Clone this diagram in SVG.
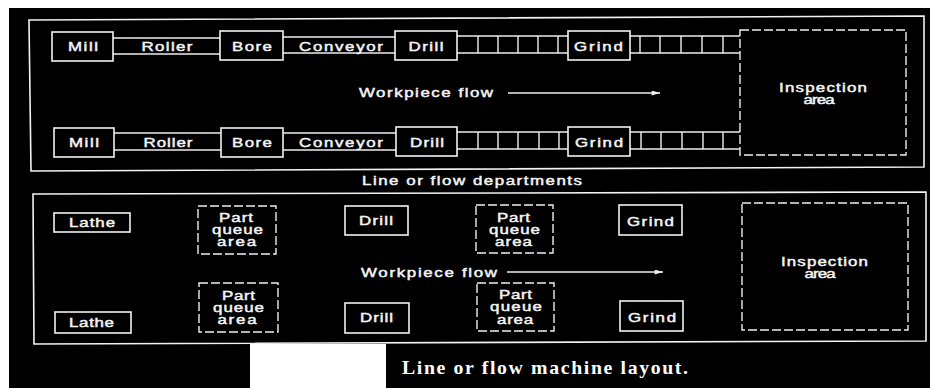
<svg xmlns="http://www.w3.org/2000/svg" width="930" height="388" viewBox="0 0 930 388">
<defs>
<style>
.b{fill:none;stroke:#f2f2f2;stroke-width:1.6}
.d{fill:none;stroke:#eeeeee;stroke-width:1.4;stroke-dasharray:9 3}
.l{stroke:#eeeeee;stroke-width:1.4;fill:none}
.t{font-family:"Liberation Sans",Arial,sans-serif;font-size:12.5px;fill:#f4f4f4;stroke:#f4f4f4;stroke-width:0.45;text-anchor:middle}
.cap{font-family:"Liberation Serif","Times New Roman",serif;font-size:18px;font-weight:bold;fill:#ffffff;text-anchor:start}
</style>
<marker id="ah" viewBox="0 0 10 6" refX="10" refY="3" markerWidth="10" markerHeight="5" markerUnits="userSpaceOnUse" orient="auto">
<path d="M0,0 L10,3 L0,6 Z" fill="#eeeeee"/>
</marker>
</defs>
<rect x="0" y="0" width="930" height="388" fill="#000"/>
<rect x="0" y="0" width="9" height="388" fill="#fff"/>
<rect x="0" y="0" width="930" height="8" fill="#fff"/>
<rect x="250" y="344" width="136" height="44" fill="#fff"/>

<g id="frames">
<polygon class="b" points="29,20 924,16 924,167 31,171"/>
<polygon class="b" points="33,194 926,192 926,341 34,344"/>
<text class="t" transform="matrix(1.35 0 0 1 472 185)" textLength="163" lengthAdjust="spacing">Line or flow departments</text>
</g>

<g id="connectors">
<line class="l" x1="113" y1="38" x2="220" y2="38"/><line class="l" x1="113" y1="54" x2="220" y2="54"/>
<line class="l" x1="283" y1="37" x2="395" y2="37"/><line class="l" x1="283" y1="53" x2="395" y2="53"/>
<line class="l" x1="457" y1="36" x2="568" y2="36"/><line class="l" x1="457" y1="53" x2="568" y2="53"/>
<path class="l" d="M478,36V53M498,36V53M518,36V53M538,36V53M558,36V53"/>
<line class="l" x1="630" y1="36" x2="740" y2="36"/><line class="l" x1="630" y1="53" x2="740" y2="53"/>
<path class="l" d="M640,36V53M660,36V53M681,36V53M702,36V53M723,36V53"/>
<text class="t" transform="matrix(1.35 0 0 1 167 51)" textLength="37.8" lengthAdjust="spacing">Roller</text>
<text class="t" transform="matrix(1.35 0 0 1 341 51)" textLength="62.2" lengthAdjust="spacing">Conveyor</text>
<line class="l" x1="114" y1="133" x2="221" y2="133"/><line class="l" x1="114" y1="150" x2="221" y2="150"/>
<line class="l" x1="283" y1="133" x2="396" y2="133"/><line class="l" x1="283" y1="150" x2="396" y2="150"/>
<line class="l" x1="457" y1="132" x2="568" y2="132"/><line class="l" x1="457" y1="149" x2="568" y2="149"/>
<path class="l" d="M478,132V149M498,132V149M518,132V149M539,132V149M559,132V149"/>
<line class="l" x1="630" y1="132" x2="740" y2="132"/><line class="l" x1="630" y1="149" x2="740" y2="149"/>
<path class="l" d="M641,132V149M661,132V149M682,132V149M703,132V149M723,132V149"/>
<text class="t" transform="matrix(1.35 0 0 1 168 147)" textLength="36.3" lengthAdjust="spacing">Roller</text>
<text class="t" transform="matrix(1.35 0 0 1 341 147)" textLength="62.2" lengthAdjust="spacing">Conveyor</text>
<line class="l" x1="508" y1="93" x2="660" y2="93" marker-end="url(#ah)"/>
<text class="t" transform="matrix(1.35 0 0 1 426 97)" textLength="99.3" lengthAdjust="spacing">Workpiece flow</text>
<line class="l" x1="507" y1="272" x2="663" y2="272" marker-end="url(#ah)"/>
<text class="t" transform="matrix(1.35 0 0 1 429 277)" textLength="100.7" lengthAdjust="spacing">Workpiece flow</text>
</g>

<g id="mill1"><rect class="b" x="52" y="32" width="61" height="29"/><text class="t" transform="matrix(1.35 0 0 1 83 51)" textLength="22.2" lengthAdjust="spacing">Mill</text></g>
<g id="bore1"><rect class="b" x="220" y="31" width="63" height="29"/><text class="t" transform="matrix(1.35 0 0 1 252 51)" textLength="29.6" lengthAdjust="spacing">Bore</text></g>
<g id="drill1"><rect class="b" x="395" y="31" width="62" height="29"/><text class="t" transform="matrix(1.35 0 0 1 426 51)" textLength="25.9" lengthAdjust="spacing">Drill</text></g>
<g id="grind1"><rect class="b" x="568" y="31" width="62" height="29"/><text class="t" transform="matrix(1.35 0 0 1 598.5 51)" textLength="36.3" lengthAdjust="spacing">Grind</text></g>
<g id="mill2"><rect class="b" x="54" y="128" width="60" height="29"/><text class="t" transform="matrix(1.35 0 0 1 84 147)" textLength="22.2" lengthAdjust="spacing">Mill</text></g>
<g id="bore2"><rect class="b" x="221" y="128" width="62" height="29"/><text class="t" transform="matrix(1.35 0 0 1 252 147)" textLength="29.6" lengthAdjust="spacing">Bore</text></g>
<g id="drill2"><rect class="b" x="396" y="127" width="61" height="29"/><text class="t" transform="matrix(1.35 0 0 1 427 147)" textLength="25.2" lengthAdjust="spacing">Drill</text></g>
<g id="grind2"><rect class="b" x="568" y="127" width="62" height="29"/><text class="t" transform="matrix(1.35 0 0 1 599 147)" textLength="35.6" lengthAdjust="spacing">Grind</text></g>
<g id="inspection1"><rect class="d" x="740" y="30" width="166" height="125"/>
<text class="t" transform="matrix(1.35 0 0 1 823 92)" textLength="65.2" lengthAdjust="spacing">Inspection</text>
<text class="t" transform="matrix(1.35 0 0 1 819 104)" textLength="23" lengthAdjust="spacing">area</text></g>

<g id="lathe1"><rect class="b" x="54" y="213" width="76" height="19"/><text class="t" transform="matrix(1.35 0 0 1 92 227)" textLength="34.1" lengthAdjust="spacing">Lathe</text></g>
<g id="lathe2"><rect class="b" x="55" y="312" width="76" height="21"/><text class="t" transform="matrix(1.35 0 0 1 91.5 327)" textLength="33.3" lengthAdjust="spacing">Lathe</text></g>
<g id="queue1"><rect class="d" x="198" y="206" width="78" height="48"/>
<text class="t" transform="matrix(1.35 0 0 1 236 222)" textLength="25.2" lengthAdjust="spacing">Part</text>
<text class="t" transform="matrix(1.35 0 0 1 237.5 234)" textLength="37.8" lengthAdjust="spacing">queue</text>
<text class="t" transform="matrix(1.35 0 0 1 236.5 246)" textLength="29" lengthAdjust="spacing">area</text></g>
<g id="queue2"><rect class="d" x="199" y="283" width="79" height="49"/>
<text class="t" transform="matrix(1.35 0 0 1 238.5 300)" textLength="24.4" lengthAdjust="spacing">Part</text>
<text class="t" transform="matrix(1.35 0 0 1 238.5 312)" textLength="37.8" lengthAdjust="spacing">queue</text>
<text class="t" transform="matrix(1.35 0 0 1 237 324)" textLength="29" lengthAdjust="spacing">area</text></g>
<g id="drill3"><rect class="b" x="345" y="206" width="63" height="29"/><text class="t" transform="matrix(1.35 0 0 1 376 225)" textLength="25.2" lengthAdjust="spacing">Drill</text></g>
<g id="drill4"><rect class="b" x="345" y="303" width="64" height="30"/><text class="t" transform="matrix(1.35 0 0 1 376.5 322)" textLength="24.4" lengthAdjust="spacing">Drill</text></g>
<g id="queue3"><rect class="d" x="476" y="205" width="77" height="48"/>
<text class="t" transform="matrix(1.35 0 0 1 513.5 222)" textLength="24.4" lengthAdjust="spacing">Part</text>
<text class="t" transform="matrix(1.35 0 0 1 514.5 234)" textLength="37.8" lengthAdjust="spacing">queue</text>
<text class="t" transform="matrix(1.35 0 0 1 513.5 246)" textLength="27.4" lengthAdjust="spacing">area</text></g>
<g id="queue4"><rect class="d" x="477" y="283" width="77" height="48"/>
<text class="t" transform="matrix(1.35 0 0 1 515.5 299)" textLength="24.4" lengthAdjust="spacing">Part</text>
<text class="t" transform="matrix(1.35 0 0 1 516 311)" textLength="38.5" lengthAdjust="spacing">queue</text>
<text class="t" transform="matrix(1.35 0 0 1 515 324)" textLength="26.7" lengthAdjust="spacing">area</text></g>
<g id="grind3"><rect class="b" x="619" y="205" width="63" height="30"/><text class="t" transform="matrix(1.35 0 0 1 650.5 226)" textLength="34.8" lengthAdjust="spacing">Grind</text></g>
<g id="grind4"><rect class="b" x="620" y="301" width="63" height="30"/><text class="t" transform="matrix(1.35 0 0 1 652 322)" textLength="35.6" lengthAdjust="spacing">Grind</text></g>
<g id="inspection2"><rect class="d" x="742" y="203" width="166" height="127"/>
<text class="t" transform="matrix(1.35 0 0 1 824.5 266)" textLength="64.4" lengthAdjust="spacing">Inspection</text>
<text class="t" transform="matrix(1.35 0 0 1 820 278)" textLength="23" lengthAdjust="spacing">area</text></g>

<text class="cap" transform="matrix(1.1 0 0 1 402 374)" textLength="260" lengthAdjust="spacing">Line or flow machine layout.</text>
</svg>
